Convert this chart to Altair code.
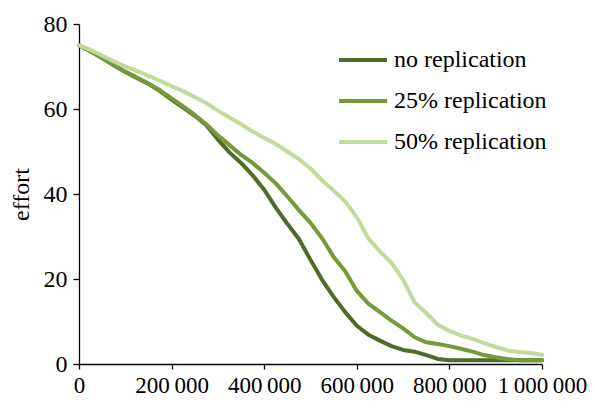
import altair as alt
import pandas as pd

times = [0, 25000, 50000, 75000, 100000, 125000, 150000, 175000, 200000, 225000,
         250000, 275000, 300000, 325000, 350000, 375000, 400000, 425000, 450000, 475000,
         500000, 525000, 550000, 575000, 600000, 625000, 650000, 675000, 700000, 725000,
         750000, 775000, 800000, 825000, 850000, 875000, 900000, 925000, 950000, 975000,
         1000000]

no_rep = [75, 73.6, 72.0, 70.3, 68.7, 67.3, 65.9, 64.2, 62.2, 60.3,
          58.4, 56.2, 52.8, 49.8, 47.3, 44.4, 41.0, 36.8, 33.0, 29.4,
          24.5, 19.8, 15.8, 12.2, 9.0, 6.9, 5.5, 4.2, 3.3, 2.9,
          2.1, 1.2, 0.9, 0.9, 0.9, 0.9, 0.9, 0.9, 0.9, 0.9, 0.9]

rep25 = [75, 73.6, 72.0, 70.4, 68.8, 67.4, 66.0, 64.4, 62.5, 60.6,
         58.6, 56.4, 53.8, 51.5, 49.2, 47.3, 45.0, 42.5, 39.4, 36.2,
         33.2, 29.6, 25.2, 21.8, 17.2, 14.2, 12.2, 10.2, 8.4, 6.3,
         5.1, 4.7, 4.2, 3.6, 2.9, 2.1, 1.6, 1.2, 0.9, 0.9, 0.9]

rep50 = [75, 73.9, 72.6, 71.2, 70.0, 69.0, 67.8, 66.6, 65.4, 64.2,
         62.8, 61.4, 59.6, 58.0, 56.4, 54.7, 53.2, 51.8, 50.0, 48.2,
         46.0, 43.2, 40.8, 38.2, 34.5, 29.5, 26.5, 23.8, 19.8, 14.5,
         12.0, 9.2, 7.8, 6.7, 5.9, 4.9, 4.0, 3.2, 2.8, 2.6, 2.2]

x_ticks = [0, 200000, 400000, 600000, 800000, 1000000]
y_ticks = [0, 20, 40, 60, 80]

series_names = ["no replication", "25% replication", "50% replication"]
series_colors = ["#4f6b2a", "#76993a", "#c2da9c"]

rows = []
for name, vals in zip(series_names, [no_rep, rep25, rep50]):
    for t, v in zip(times, vals):
        rows.append({"time": t, "effort": v, "series": name})
df = pd.DataFrame(rows)

FONT = "Liberation Serif"
SEP = "\u2009"
label_expr = ("replace(replace(format(datum.value, ','), ',', '%s'), ',', '%s')"
              % (SEP, SEP))

chart = alt.Chart(df).mark_line(strokeWidth=4, strokeCap="round", strokeJoin="round").encode(
    x=alt.X("time:Q", title="time",
            scale=alt.Scale(domain=[0, 1000000], nice=False),
            axis=alt.Axis(values=x_ticks, labelExpr=label_expr, labelFontSize=23,
                          grid=False, tickSize=5, labelPadding=5,
                          titleY=385, titleBaseline="alphabetic")),
    y=alt.Y("effort:Q", title="effort",
            scale=alt.Scale(domain=[0, 80], nice=False),
            axis=alt.Axis(values=y_ticks, grid=False, tickSize=6,
                          labelPadding=6, titleX=-51, titleY=170,
                          titleBaseline="alphabetic")),
    color=alt.Color("series:N", sort=series_names,
                    scale=alt.Scale(domain=series_names, range=series_colors),
                    legend=alt.Legend(title=None, orient="none", legendX=258, legendY=10,
                                      symbolType="stroke", symbolSize=2304,
                                      symbolStrokeWidth=4, labelOffset=5,
                                      rowPadding=3, padding=0,
                                      labelFontSize=24, labelFont=FONT,
                                      labelColor="black")),
    order=alt.Order("time:Q"),
).properties(
    width=463, height=340,
    autosize=alt.AutoSizeParams(type="none"),
    padding={"left": 71, "top": 16, "right": 45, "bottom": 55},
).configure_view(stroke=None).configure_axis(
    labelFont=FONT, titleFont=FONT, labelFontSize=24, titleFontSize=24,
    titleFontWeight="normal", labelColor="black", titleColor="black",
    domainColor="black", tickColor="black", domainWidth=1.3, tickWidth=1.3,
    labelFlush=False, labelOverlap=False,
).configure_legend(
    labelFont=FONT, labelFontSize=24, labelColor="black"
)

chart.save("out.html", embed_options={"renderer": "svg", "actions": False})
